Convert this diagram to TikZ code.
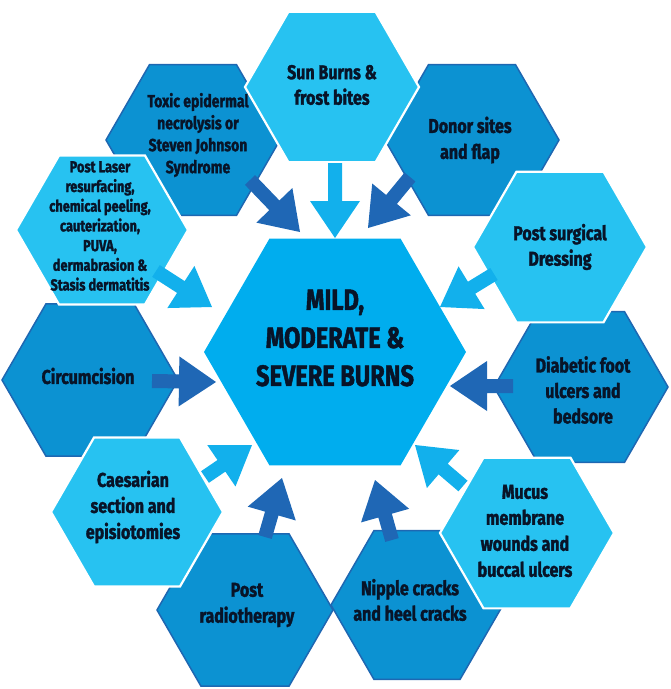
\documentclass[tikz,border=0pt]{standalone}
\usepackage{fontspec}
\setmainfont{Fira Sans}[FakeStretch=0.8, BoldFeatures={FakeBold=1.6}]
\usetikzlibrary{shapes.geometric,calc}
\definecolor{cen}{HTML}{00ADEE}
\definecolor{lhex}{HTML}{27C2F1}
\definecolor{dhex}{HTML}{0C92D2}
\definecolor{dbord}{HTML}{1E67B2}
\definecolor{darr}{HTML}{1F67B5}
\definecolor{larr}{HTML}{12B0EC}
\definecolor{ink}{HTML}{081428}
\tikzset{
  hexa/.style={regular polygon, regular polygon sides=6, inner sep=0pt, minimum size=#1},
  darkhex/.style={hexa=#1, fill=dhex, draw=dbord, line width=1.5pt},
  lighthex/.style={hexa=#1, fill=lhex, draw=white, line width=2.2pt},
  centhex/.style={hexa=#1, fill=cen},
  lbl/.style={text=ink, align=center, inner sep=0pt, font=\bfseries\fontsize{20}{25.5}\selectfont},
  arrdark/.style={fill=darr},
  arrlight/.style={fill=larr},
}
\newcommand\blockarrow[3]{%
  \coordinate (bab) at ($(#3)!37pt!(#2)$);
  \fill[#1] ($(#2)!7pt!90:(#3)$) -- ($(bab)!7pt!90:(#3)$) -- ($(bab)!25pt!90:(#3)$)
    -- (#3) -- ($(bab)!25pt!-90:(#3)$) -- ($(bab)!7pt!-90:(#3)$) -- ($(#2)!7pt!-90:(#3)$) -- cycle;
}
\begin{document}
\begin{tikzpicture}[x=1pt,y=-1pt]
\useasboundingbox (0,0) rectangle (671,689);
% dark hexagons
\node[darkhex=174pt] (toxic) at (193,140) {};
\node[darkhex=174pt] (donor) at (472,140) {};
\node[darkhex=176pt] (circ) at (90,380) {};
\node[darkhex=174pt] (diab) at (581,387) {};
\node[darkhex=176pt] (radio) at (245,610) {};
\node[darkhex=172pt] (nipple) at (417,605) {};
% light hexagons
\node[lighthex=174pt] (sun) at (332,87) {};
\node[lighthex=174pt] (surg) at (560,247) {};
\node[lighthex=172pt] (laser) at (102,230) {};
\node[lighthex=172pt] (caes) at (137,512) {};
\node[lighthex=174pt] (mucus) at (527,533) {};
% central
\node[centhex=262pt] (burns) at (335,352) {};
% arrow coordinates
\coordinate (sunT) at (335,163);   \coordinate (sunH) at (335,238);
\coordinate (toxT) at (250,180);   \coordinate (toxH) at (300,232);
\coordinate (donT) at (410,177);   \coordinate (donH) at (368,228);
\coordinate (lasT) at (156,271);   \coordinate (lasH) at (212,307);
\coordinate (cirT) at (152,381);   \coordinate (cirH) at (216,382);
\coordinate (surT) at (494,274);   \coordinate (surH) at (440,307);
\coordinate (diaT) at (513,386);   \coordinate (diaH) at (450,386);
\coordinate (caeT) at (205,477);   \coordinate (caeH) at (252,445);
\coordinate (radT) at (265,537);   \coordinate (radH) at (282,478);
\coordinate (nipT) at (392,540);   \coordinate (nipH) at (375,480);
\coordinate (mucT) at (463,486);   \coordinate (mucH) at (415,445);
\blockarrow{arrlight}{sunT}{sunH}
\blockarrow{arrdark}{toxT}{toxH}
\blockarrow{arrdark}{donT}{donH}
\blockarrow{arrlight}{lasT}{lasH}
\blockarrow{arrdark}{cirT}{cirH}
\blockarrow{arrlight}{surT}{surH}
\blockarrow{arrdark}{diaT}{diaH}
\blockarrow{arrlight}{caeT}{caeH}
\blockarrow{arrdark}{radT}{radH}
\blockarrow{arrdark}{nipT}{nipH}
\blockarrow{arrlight}{mucT}{mucH}
% labels
\node[lbl] (tsun) at (332,85) {Sun Burns \&\\frost bites};
\node[lbl, font=\bfseries\fontsize{17.5}{22}\selectfont] (ttox) at (198,135) {Toxic epidermal\\necrolysis or\\Steven Johnson\\Syndrome};
\node[lbl, font=\bfseries\fontsize{20}{26}\selectfont] (tdon) at (470,140) {Donor sites\\and flap};
\node[lbl] (tsur) at (560,247) {Post surgical\\Dressing};
\node[lbl, font=\bfseries\fontsize{16}{19.7}\selectfont] (tlas) at (100,226) {Post Laser\\resurfacing,\\chemical peeling,\\cauterization,\\PUVA,\\dermabrasion \&\\Stasis dermatitis};
\node[lbl] (tcir) at (88,376) {Circumcision};
\node[lbl] (tdia) at (583,390) {Diabetic foot\\ulcers and\\bedsore};
\node[lbl, font=\bfseries\fontsize{20}{26}\selectfont] (tcae) at (133,507) {Caesarian\\section and\\episiotomies};
\node[lbl, font=\bfseries\fontsize{20}{26}\selectfont] (tmuc) at (525,531) {Mucus\\membrane\\wounds and\\buccal ulcers};
\node[lbl, font=\bfseries\fontsize{20}{26}\selectfont] (trad) at (247,605) {Post\\radiotherapy};
\node[lbl] (tnip) at (410,600) {Nipple cracks\\and heel cracks};
\node[lbl, font=\bfseries\fontsize{29.5}{38}\selectfont] (tbur) at (335,338) {MILD,\\MODERATE \&\\SEVERE BURNS};
\end{tikzpicture}
\end{document}
